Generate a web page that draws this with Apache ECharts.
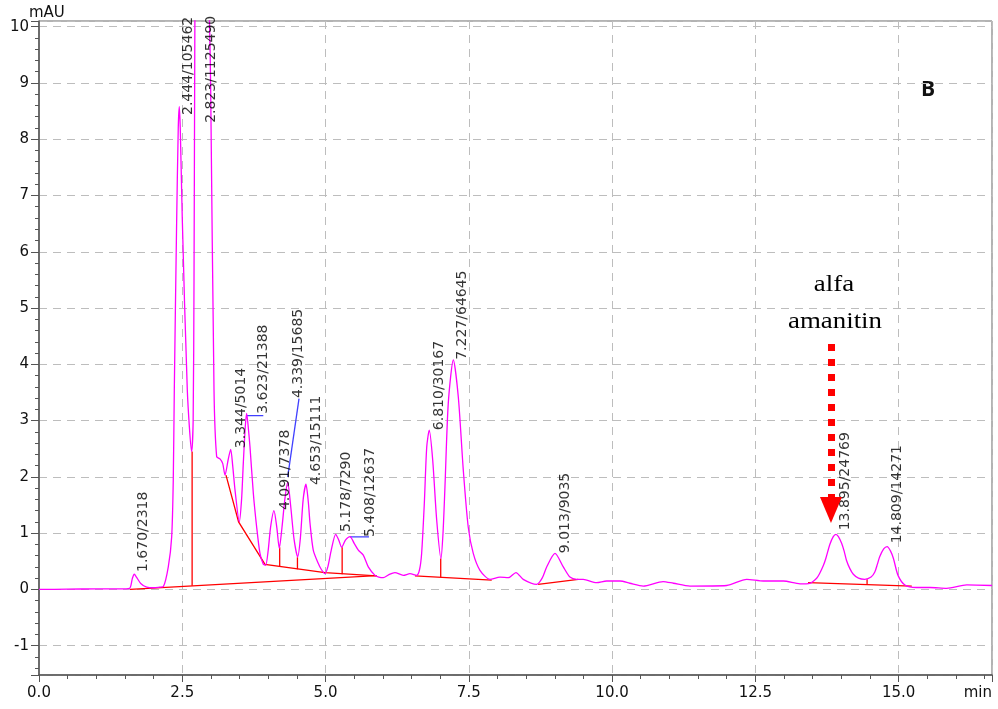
<!DOCTYPE html>
<html><head><meta charset="utf-8">
<script src="https://cdn.jsdelivr.net/npm/echarts@6/dist/echarts.min.js"></script>
<style>html,body{margin:0;padding:0;background:#fff}#c{width:998px;height:709px}</style>
</head><body><div id="c"></div>
<script>
// ---- data ----
const traceTime = [0,0.5,1.0,1.4,1.58,1.63,1.663,1.70,1.78,1.88,2.0,2.1,2.169,2.256,2.315,2.343,2.361,2.40,2.43,2.448,2.465,2.50,2.588,2.664,2.69,2.705,2.718,2.73,2.78,2.823,2.87,2.93,2.975,2.996,3.054,3.10,3.158,3.205,3.246,3.30,3.345,3.38,3.42,3.495,3.535,3.565,3.60,3.624,3.65,3.682,3.74,3.798,3.856,3.914,3.955,4.00,4.04,4.10,4.15,4.193,4.24,4.29,4.34,4.39,4.45,4.514,4.56,4.61,4.659,4.70,4.729,4.786,4.874,4.93,4.99,5.04,5.10,5.177,5.23,5.282,5.35,5.427,5.50,5.572,5.659,5.746,5.863,5.93,6.008,6.10,6.21,6.357,6.474,6.59,6.64,6.677,6.724,6.766,6.81,6.87,6.94,7.014,7.05,7.084,7.142,7.23,7.317,7.404,7.49,7.578,7.695,7.87,8.044,8.19,8.323,8.45,8.684,8.78,8.859,9.004,9.149,9.265,9.382,9.497,9.73,9.905,10.14,10.31,10.545,10.89,11.07,11.36,12.0,12.35,12.64,12.99,13.28,13.45,13.57,13.62,13.685,13.73,13.80,13.86,13.907,13.95,14.006,14.05,14.09,14.15,14.21,14.30,14.41,14.52,14.585,14.63,14.67,14.74,14.80,14.86,14.91,14.99,15.11,15.31,15.55,15.84,16.19,16.63];
const traceSignal = [0,0.005,0.01,0.01,0.02,0.2,0.27,0.22,0.1,0.04,0.03,0.04,0.05,0.40,0.93,1.94,3.54,6.4,8.2,8.58,8.2,6.6,3.54,2.45,3.0,5.5,9.5,11.5,13.2,13.6,13.2,11.2,10.1,8.87,3.54,2.36,2.32,2.24,2.03,2.3,2.49,2.2,1.77,1.2,1.6,2.24,2.9,3.13,2.9,2.53,1.71,1.11,0.64,0.45,0.43,0.7,1.1,1.40,1.1,0.73,1.1,1.6,1.9,1.5,0.9,0.58,0.9,1.6,1.87,1.55,1.18,0.70,0.46,0.35,0.28,0.4,0.7,0.98,0.88,0.75,0.88,0.94,0.82,0.70,0.61,0.40,0.25,0.22,0.21,0.26,0.30,0.25,0.28,0.25,0.35,0.64,1.53,2.53,2.83,2.30,1.23,0.55,1.0,1.82,3.31,4.08,3.42,2.12,1.11,0.64,0.34,0.18,0.22,0.21,0.30,0.18,0.09,0.2,0.40,0.64,0.40,0.22,0.18,0.18,0.12,0.15,0.15,0.11,0.06,0.14,0.11,0.06,0.07,0.18,0.15,0.15,0.10,0.11,0.2,0.28,0.42,0.55,0.80,0.94,0.98,0.94,0.82,0.68,0.52,0.37,0.27,0.2,0.18,0.22,0.31,0.45,0.58,0.72,0.76,0.68,0.55,0.25,0.08,0.035,0.035,0.02,0.08,0.07];

// peak annotations: retention time / area
const peakLabels = ['1.670/2318','2.444/105462','2.823/1125490','3.344/5014','3.623/21388','4.091/7378','4.339/15685','4.653/15111','5.178/7290','5.408/12637','6.810/30167','7.227/64645','9.013/9035','13.895/24769','14.809/14271'];
const labelTime   = [1.823,2.600,3.001,3.525,3.909,4.293,4.519,4.833,5.357,5.776,6.98,7.381,9.178,14.064,14.97];
const labelSignal = [0.31,8.43,8.29,2.51,3.12,1.41,3.40,1.855,1.02,0.93,2.83,4.08,0.645,1.05,0.82];

// integration baselines (red)
const baselineSegments = [
  [[1.59,0.0],[5.89,0.245]],
  [[3.263,2.03],[3.483,1.2],[3.944,0.445],[4.99,0.30],[5.89,0.24]],
  [[6.56,0.24],[7.9,0.165]],
  [[8.71,0.09],[9.41,0.18]],
  [[13.42,0.12],[15.23,0.06]]
];
// drop lines (red)
const dropTime = [2.672,4.20,4.51,5.29,7.01,14.45];
const dropLow  = [0.066,0.40,0.36,0.27,0.215,0.09];
const dropHigh = [2.45,0.75,0.57,0.75,0.55,0.18];
// label leaders (blue)
const leaderSegments = [
  [[3.624,3.09],[3.914,3.09]],
  [[4.34,2.0],[4.537,3.39]],
  [[5.427,0.935],[5.758,0.935]]
];
// alfa amanitin arrow
const arrowTime = 13.82, arrowFrom = 4.36, arrowTo = 1.41;

const xMin = 0, xMax = 16.63, xStep = 2.5;
const yMin = -1.52, yMax = 10.1;

// ---- chart ----
const chart = echarts.init(document.getElementById('c'), null, {renderer:'canvas'});
const tickFont = {fontFamily:'DejaVu Sans', fontSize:15, color:'#111'};
const dropSegs = dropTime.map((t,i)=>[[t,dropLow[i]],[t,dropHigh[i]]]);

chart.setOption({
  animation:false,
  backgroundColor:'#fff',
  grid:{left:39,right:6,top:21,bottom:34,show:true,borderColor:'#666',borderWidth:1,containLabel:false},
  xAxis:{
    type:'value', min:xMin, max:xMax, interval:xStep,
    axisLine:{show:true,onZero:false,lineStyle:{color:'#555',width:1.5}},
    axisTick:{show:true,length:7,lineStyle:{color:'#555'}},
    minorTick:{show:true,splitNumber:5,length:4,lineStyle:{color:'#555'}},
    splitLine:{show:true,lineStyle:{color:'#bdbdbd',type:[8,6],width:1}},
    axisLabel:Object.assign({interval:0,margin:11,showMaxLabel:true,alignMaxLabel:'right',
      formatter:v=>Math.abs(v-xMax)<1e-6?'min':v.toFixed(1)},tickFont)
  },
  yAxis:{
    type:'value', min:yMin, max:yMax, splitNumber:11,
    axisLine:{show:true,onZero:false,lineStyle:{color:'#555',width:1.5}},
    axisTick:{show:true,length:8,lineStyle:{color:'#555'}},
    minorTick:{show:true,splitNumber:5,length:4,lineStyle:{color:'#555'}},
    splitLine:{show:true,lineStyle:{color:'#bdbdbd',type:[8,6],width:1}},
    axisLabel:Object.assign({margin:10,showMinLabel:false,showMaxLabel:false},tickFont)
  },
  series:[
    {type:'lines',coordinateSystem:'cartesian2d',polyline:true,silent:true,z:2,
     data:baselineSegments.concat(dropSegs).map(s=>({coords:s})),
     lineStyle:{color:'#ff0000',width:1.3,opacity:1}},
    {type:'lines',coordinateSystem:'cartesian2d',polyline:true,silent:true,z:2,
     data:leaderSegments.map(s=>({coords:s})),
     lineStyle:{color:'#4040ff',width:1.3,opacity:1}},
    {type:'line',data:traceTime.map((t,i)=>[t,traceSignal[i]]),symbol:'none',showSymbol:false,
     smooth:0.25,clip:true,z:3,
     lineStyle:{color:'#ff00ff',width:1.3}},
    {type:'scatter',symbolSize:0,z:4,silent:true,
     data:labelTime.map((t,i)=>[t,labelSignal[i],peakLabels[i]]),
     label:{show:true,position:'inside',rotate:90,align:'left',verticalAlign:'middle',
       formatter:p=>p.value[2],fontFamily:'DejaVu Sans',fontSize:14,color:'#000'},
     markLine:{silent:true,symbol:['none','triangle'],symbolSize:[22,26],animation:false,
       label:{show:false},
       lineStyle:{color:'#ff0000',width:7,type:[7,8],cap:'butt'},
       itemStyle:{color:'#ff0000'},
       data:[[{coord:[arrowTime,arrowFrom]},{coord:[arrowTime,arrowTo]}]]}}
  ],
  graphic:[
    {type:'text',x:29,y:13,style:{text:'mAU',font:'15px "DejaVu Sans"',fill:'#111',align:'left',verticalAlign:'middle',textAlign:'left',textVerticalAlign:'middle'}},
    {type:'text',x:928,y:90,style:{text:'B',font:'bold 21px "Open Sans"',fill:'#111',align:'center',verticalAlign:'middle',textAlign:'center',textVerticalAlign:'middle'}},
    {type:'text',x:834,y:285,scaleX:1.12,style:{text:'alfa',font:'24px "Liberation Serif"',fill:'#000',align:'center',verticalAlign:'middle',textAlign:'center',textVerticalAlign:'middle'}},
    {type:'text',x:835,y:322,scaleX:1.12,style:{text:'amanitin',font:'24px "Liberation Serif"',fill:'#000',align:'center',verticalAlign:'middle',textAlign:'center',textVerticalAlign:'middle'}}
  ]
});
</script></body></html>
